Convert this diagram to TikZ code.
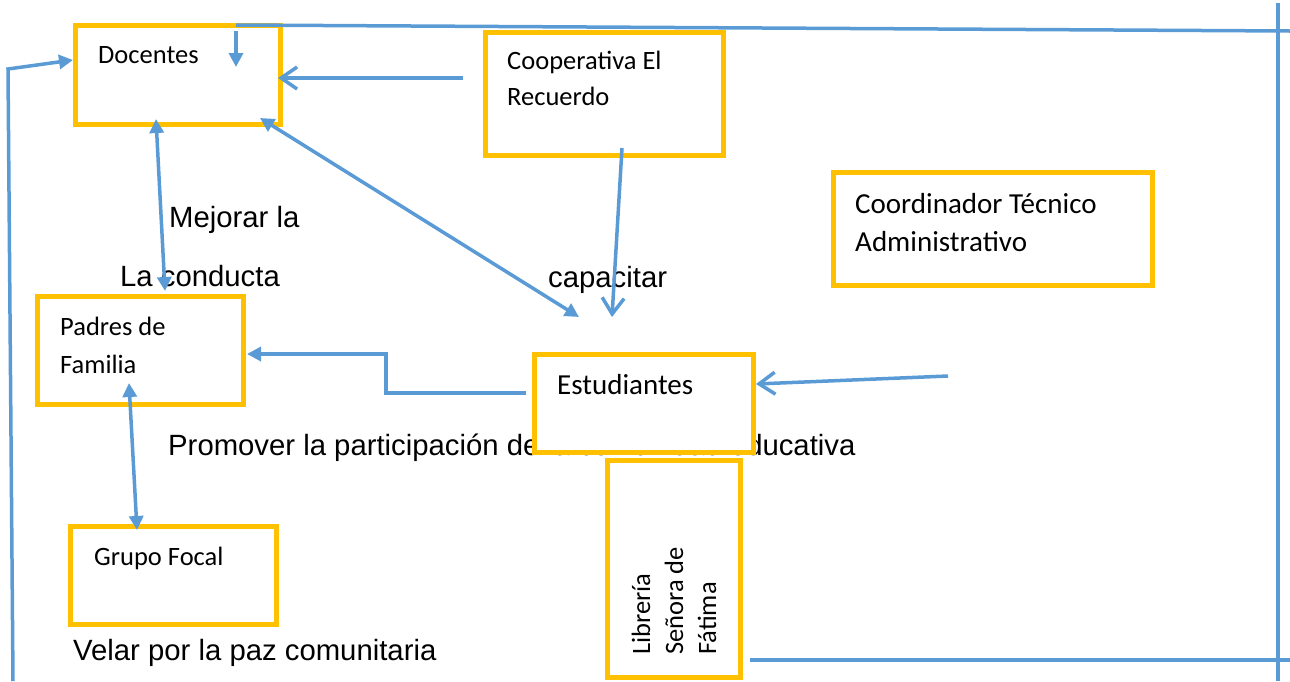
\documentclass[tikz,border=0pt]{standalone}
\usepackage{fontspec}
\setmainfont{Carlito}
\newfontfamily\lblfont{Liberation Sans}
\usetikzlibrary{arrows.meta}
\definecolor{lineblue}{HTML}{5B9BD5}
\definecolor{boxyellow}{HTML}{FFC000}
\tikzset{
  box/.style={draw=boxyellow, line width=5pt, fill=white, rectangle, inner sep=0pt, outer sep=0pt, anchor=north west},
  boxtext/.style={anchor=base west, inner sep=0pt, font=\fontsize{26.5}{30}\selectfont},
  bigboxtext/.style={anchor=base west, inner sep=0pt, font=\fontsize{29}{33}\selectfont},
  lbl/.style={anchor=base west, inner sep=0pt, font=\lblfont\fontsize{29.3}{34}\selectfont},
  conn/.style={draw=lineblue, line width=3.5pt},
  fillhead/.style={-{Triangle[length=14pt,width=14pt]}},
  bothhead/.style={{Triangle[length=14pt,width=14pt]}-{Triangle[length=14pt,width=14pt]}},
  openhead/.style={-{Straight Barb[length=16pt,width=22pt]}}
}
\begin{document}
\begin{tikzpicture}[x=1pt,y=-1pt]
\useasboundingbox (0,0) rectangle (1290,681);
% free labels (drawn first, boxes may cover them)
\node[lbl] (mejorar) at (169,227) {Mejorar la};
\node[lbl] (conducta) at (120,286) {La conducta};
\node[lbl] (capacitar) at (548,287) {capacitar};
\node[lbl] (promover) at (168,455) {Promover la participación de la comunidad educativa};
\node[lbl] (velar) at (73,660) {Velar por la paz comunitaria};
% boxes
\node[box, minimum width=205pt, minimum height=99pt] (doc) at (75.5,25.5) {};
\node[box, minimum width=238pt, minimum height=123pt] (coop) at (485.5,32.5) {};
\node[box, minimum width=319pt, minimum height=113pt] (coord) at (833.5,172.5) {};
\node[box, minimum width=205.5pt, minimum height=107.5pt] (padres) at (37.5,296.5) {};
\node[box, minimum width=219pt, minimum height=98.5pt] (est) at (534.5,354) {};
\node[box, minimum width=133pt, minimum height=217pt] (lib) at (607.5,460.5) {};
\node[box, minimum width=206pt, minimum height=98pt] (grupo) at (70.5,526.5) {};
% box texts
\node[boxtext] (docT) at (98,63) {Docentes};
\node[boxtext] (coopT1) at (507,69) {Cooperativa El};
\node[boxtext] (coopT2) at (507,105) {Recuerdo};
\node[bigboxtext] (coordT1) at (855,213) {Coordinador Técnico};
\node[bigboxtext] (coordT2) at (855,251) {Administrativo};
\node[bigboxtext] (estT) at (557,394) {Estudiantes};
\node[boxtext] (padresT1) at (60,335) {Padres de};
\node[boxtext] (padresT2) at (60,373) {Familia};
\node[boxtext] (grupoT) at (94,565) {Grupo Focal};
\node[boxtext, rotate=90] (libT1) at (650,655) {Librería};
\node[boxtext, rotate=90] (libT2) at (683,655) {Señora de};
\node[boxtext, rotate=90] (libT3) at (716,655) {Fátima};
% connector end points
\coordinate (leftBot) at (13,681);
\coordinate (leftTop) at (8,69);
\coordinate (docW) at (73,60);
\coordinate (topStart) at (236,25);
\coordinate (topEnd) at (1290,31);
\coordinate (innerStart) at (236,31);
\coordinate (innerEnd) at (236,67);
\coordinate (rightTop) at (1278,3);
\coordinate (rightBot) at (1278,681);
\coordinate (botStart) at (750,660);
\coordinate (botEnd) at (1290,660);
\coordinate (coopW) at (463,78);
\coordinate (docE) at (278,78);
\coordinate (docS1) at (156,119);
\coordinate (padresN) at (165,291);
\coordinate (docSE) at (260,118);
\coordinate (estNW) at (579,317);
\coordinate (coopS) at (622,148);
\coordinate (estN) at (612,317);
\coordinate (estW) at (526,393);
\coordinate (bend1) at (386,393);
\coordinate (bend2) at (386,354);
\coordinate (padresE) at (247,354);
\coordinate (rightFree) at (948,376);
\coordinate (estE) at (756,384);
\coordinate (padresS) at (129,383);
\coordinate (grupoN) at (137,530);
% connectors
\draw[conn, fillhead] (leftBot) -- (leftTop) -- (docW);
\draw[conn] (topStart) -- (topEnd);
\draw[conn, fillhead] (innerStart) -- (innerEnd);
\draw[conn] (rightTop) -- (rightBot);
\draw[conn] (botStart) -- (botEnd);
\draw[conn, openhead] (coopW) -- (docE);
\draw[conn, bothhead] (docS1) -- (padresN);
\draw[conn, bothhead] (docSE) -- (estNW);
\draw[conn, openhead] (coopS) -- (estN);
\draw[conn, fillhead] (estW) -- (bend1) -- (bend2) -- (padresE);
\draw[conn, openhead] (rightFree) -- (estE);
\draw[conn, bothhead] (padresS) -- (grupoN);
\end{tikzpicture}
\end{document}
